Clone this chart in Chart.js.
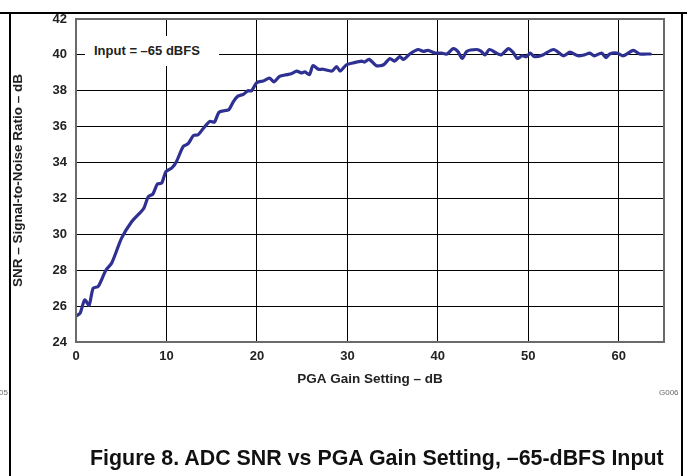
<!DOCTYPE html>
<html>
<head>
<meta charset="utf-8">
<script src="https://cdn.jsdelivr.net/npm/chart.js@4/dist/chart.umd.min.js"></script>
<style>
  body { margin: 0; background: #fff; }
  #wrap { position: relative; width: 687px; height: 476px; overflow: hidden; font-family: "Liberation Sans", Arial, sans-serif; }
  #chart { position: absolute; left: 0; top: 0; }
  .rule { position: absolute; background: #000; }
  .note { position: absolute; left: 85px; top: 36px; width: 134px; height: 30px; background: #fff;
          font-weight: bold; font-size: 13px; line-height: 30px; padding-left: 9px; box-sizing: border-box; color: #222; }
  .code { position: absolute; top: 388px; font-size: 8px; color: #666; }
  .caption { position: absolute; left: 90px; top: 446px; font-weight: bold; font-size: 21.4px; color: #111; white-space: nowrap; }
</style>
</head>
<body>
<div id="wrap">
  <canvas id="chart" width="687" height="476"></canvas>
  <div class="rule" style="left:0;top:12px;width:687px;height:2px"></div>
  <div class="rule" style="left:9px;top:12px;width:1.5px;height:464px"></div>
  <div class="rule" style="left:681px;top:12px;width:1.5px;height:464px"></div>
  <div class="note">Input = –65 dBFS</div>
  <div class="code" style="left:-1px">05</div>
  <div class="code" style="left:659px">G006</div>
  <div class="caption">Figure 8. ADC SNR vs PGA Gain Setting, –65-dBFS Input</div>
</div>
<script>
const gainDb = [
  0, 0.45, 0.96, 1.44, 1.9, 2.46, 3.3, 3.95, 5.05, 6.15,
  7.07, 7.5, 8.0, 8.5, 9.0, 9.47, 9.94, 10.6, 11.1, 11.86,
  12.4, 12.97, 13.5, 14.07, 14.8, 15.3, 15.8, 16.5, 16.9, 17.4,
  17.9, 18.5, 19.0, 19.4, 19.97, 20.7, 21.4, 21.9, 22.5, 23.3,
  23.8, 24.4, 24.9, 25.3, 25.8, 26.2, 26.8, 27.3, 28.3, 28.8,
  29.2, 29.9, 30.6, 31.6, 31.9, 32.4, 33.2, 34.0, 34.7, 35.2,
  35.8, 36.2, 36.9, 37.8, 38.4, 38.9, 39.7, 40.4, 41.0, 41.7,
  42.2, 42.7, 43.2, 44.3, 44.8, 45.2, 45.7, 46.3, 47.0, 47.8,
  48.3, 48.8, 49.3, 49.8, 50.2, 50.7, 51.6, 52.8, 53.9, 54.6,
  55.5, 56.2, 56.8, 57.3, 58.1, 58.6, 59.0, 59.8, 60.5, 61.6,
  62.3, 63.1, 63.5
];
const snrDb = [
  25.45, 25.6, 26.35, 26.05, 27.0, 27.1, 28.0, 28.4, 29.8, 30.7,
  31.2, 31.45, 32.1, 32.25, 32.8, 32.85, 33.5, 33.7, 34.05, 34.9,
  35.05, 35.5, 35.55, 35.9, 36.3, 36.25, 36.8, 36.9, 36.95, 37.4,
  37.7, 37.8, 38.0, 38.0, 38.45, 38.55, 38.7, 38.5, 38.8, 38.9,
  38.95, 39.1, 39.0, 39.05, 38.9, 39.4, 39.2, 39.2, 39.1, 39.35,
  39.1, 39.45, 39.55, 39.65, 39.6, 39.75, 39.4, 39.45, 39.8, 39.65,
  39.9, 39.75, 40.05, 40.3, 40.2, 40.25, 40.1, 40.1, 40.05, 40.35,
  40.2, 39.8, 40.2, 40.3, 40.2, 40.0, 40.3, 40.15, 40.0, 40.35,
  40.15, 39.8, 39.95, 39.9, 40.1, 39.9, 40.0, 40.3, 39.95, 40.15,
  39.95, 40.0, 40.1, 39.95, 40.1, 39.85, 40.05, 40.1, 39.95, 40.25,
  40.05, 40.05, 40.05
];
const xRange = [0, 65];
const yRange = [24, 42];

const tickFont = { family: '"Liberation Sans", Arial, sans-serif', size: 13, weight: 'bold' };
const titleFont = { family: '"Liberation Sans", Arial, sans-serif', size: 13.5, weight: 'bold' };

const plotBorder = {
  id: 'plotBorder',
  afterDraw(chart) {
    const { ctx, chartArea: a } = chart;
    ctx.save();
    ctx.strokeStyle = '#6a6a6a';
    ctx.lineWidth = 2;
    ctx.strokeRect(a.left, a.top, a.right - a.left, a.bottom - a.top);
    ctx.restore();
  }
};

new Chart(document.getElementById('chart'), {
  type: 'line',
  data: {
    datasets: [{
      data: gainDb.map((g, i) => ({ x: g, y: snrDb[i] })),
      borderColor: '#2e3192',
      borderWidth: 3.2,
      pointRadius: 0,
      tension: 0.25,
      borderJoinStyle: 'round',
      borderCapStyle: 'round'
    }]
  },
  options: {
    responsive: false,
    animation: false,
    layout: { padding: { left: 0, top: 19, right: 23, bottom: 88 } },
    plugins: { legend: { display: false }, tooltip: { enabled: false } },
    scales: {
      x: {
        type: 'linear', min: xRange[0], max: xRange[1],
        afterFit(s) { s.height = 46; },
        ticks: { stepSize: 10, includeBounds: false, padding: 7, color: '#222', font: tickFont },
        grid: { color: '#000', lineWidth: 1, drawTicks: false },
        border: { display: false },
        title: { display: true, text: 'PGA Gain Setting – dB', color: '#222', font: titleFont, padding: { top: 0, bottom: 1 } }
      },
      y: {
        min: yRange[0], max: yRange[1],
        afterFit(s) { s.width = 76; },
        ticks: { stepSize: 2, padding: 9, color: '#222', font: tickFont },
        grid: { color: '#000', lineWidth: 1, drawTicks: false },
        border: { display: false },
        title: { display: true, text: 'SNR – Signal-to-Noise Ratio – dB', color: '#222', font: titleFont, padding: { top: 10, bottom: 0 } }
      }
    }
  },
  plugins: [plotBorder]
});
</script>
</body>
</html>
